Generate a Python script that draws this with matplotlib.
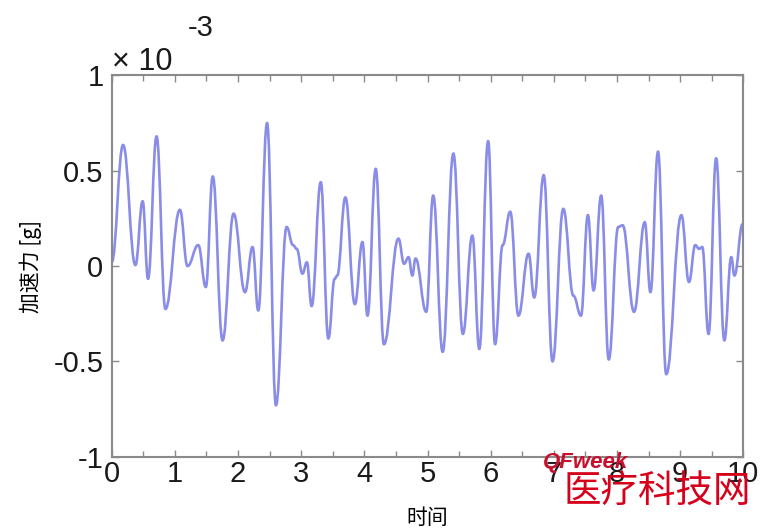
import matplotlib
matplotlib.use('agg')
import matplotlib.pyplot as plt
from matplotlib.path import Path
from matplotlib.patches import PathPatch
from matplotlib.ticker import MultipleLocator, FixedLocator

# time [s] and acceleration [x 1e-3 g] (peaks / troughs)
time_s = [0.00, 0.18, 0.375, 0.49, 0.575, 0.71, 0.85, 1.08, 1.20, 1.37, 1.49,
          1.60, 1.755, 1.93, 2.11, 2.23, 2.32, 2.46, 2.60, 2.77, 2.87, 2.93,
          3.02, 3.09, 3.165, 3.31, 3.43, 3.53, 3.57, 3.70, 3.85, 3.97, 4.05,
          4.18, 4.31, 4.54, 4.63, 4.70, 4.76, 4.81, 4.98, 5.09, 5.24, 5.41,
          5.56, 5.71, 5.82, 5.96, 6.07, 6.19, 6.31, 6.44, 6.60, 6.69, 6.84,
          6.98, 7.15, 7.31, 7.43, 7.54, 7.63, 7.75, 7.87, 8.02, 8.09, 8.27,
          8.44, 8.53, 8.65, 8.78, 9.02, 9.14, 9.24, 9.30, 9.35, 9.45, 9.57,
          9.70, 9.81, 9.86, 9.99]
accel_e3 = [0.02, 0.635, 0.005, 0.34, -0.067, 0.68, -0.225, 0.295, 0.00, 0.11, -0.11,
            0.47, -0.39, 0.275, -0.137, 0.10, -0.233, 0.75, -0.73, 0.205, 0.11, 0.09,
            -0.04, 0.02, -0.21, 0.44, -0.38, -0.067, -0.05, 0.36, -0.20, 0.126, -0.26,
            0.51, -0.41, 0.144, 0.012, 0.047, -0.05, 0.04, -0.24, 0.37, -0.45, 0.59,
            -0.356, 0.16, -0.435, 0.655, -0.41, 0.11, 0.285, -0.26, 0.065, -0.165, 0.477,
            -0.50, 0.30, -0.155, -0.26, 0.267, -0.128, 0.37, -0.49, 0.205, 0.214, -0.24,
            0.23, -0.137, 0.60, -0.567, 0.267, -0.084, 0.11, 0.09, 0.10, -0.356, 0.565,
            -0.39, 0.047, -0.05, 0.22]

x_ticks = [0, 1, 2, 3, 4, 5, 6, 7, 8, 9, 10]
y_ticks = [-1, -0.5, 0, 0.5, 1]
y_tick_labels = ['-1', '-0.5', '0', '0.5', '1']

cjk = ['Noto Sans CJK SC', 'DejaVu Sans']
plt.rcParams['font.family'] = ['Liberation Sans', 'DejaVu Sans']

fig = plt.figure(figsize=(7.6, 5.3), dpi=100)
ax = fig.add_axes([0.147, 0.138, 0.831, 0.72])

# the points are turning points of the signal, so join them with bezier
# segments that are flat at each point (smooth like the original trace)
verts = [(time_s[0], accel_e3[0])]
codes = [Path.MOVETO]
for i in range(len(time_s) - 1):
    t0, v0 = time_s[i], accel_e3[i]
    t1, v1 = time_s[i + 1], accel_e3[i + 1]
    d = (t1 - t0) * 0.42
    verts += [(t0 + d, v0), (t1 - d, v1), (t1, v1)]
    codes += [Path.CURVE4] * 3
ax.add_patch(PathPatch(Path(verts, codes), facecolor='none',
                       edgecolor='#8a8de8', lw=1.9, capstyle='round',
                       joinstyle='round'))

ax.set_xlim(0, 10)
ax.set_ylim(-1, 1)
ax.xaxis.set_major_locator(FixedLocator(x_ticks))
ax.xaxis.set_minor_locator(MultipleLocator(0.5))
ax.set_yticks(y_ticks)
ax.set_yticklabels(y_tick_labels)

for s in ax.spines.values():
    s.set_color('#8a8a8a')
    s.set_linewidth(1.5)
ax.tick_params(which='both', direction='in', top=True, right=True,
               color='#8a8a8a', width=1)
ax.tick_params(which='major', length=5, labelsize=21, labelcolor='#1a1a1a')
ax.tick_params(which='minor', length=4)
ax.tick_params(axis='x', which='major', pad=2)
ax.tick_params(axis='y', which='major', pad=6)

# MATLAB style exponent label
fig.text(0.148, 0.855, '× 10', fontsize=22, color='#1a1a1a', ha='left', va='bottom')
fig.text(0.247, 0.92, '-3', fontsize=21, color='#1a1a1a', ha='left', va='bottom')

ax.set_ylabel('加速力 [g]', family=cjk, fontsize=15, labelpad=8)
ax.set_xlabel('时间', family=cjk, fontsize=15, labelpad=14)

# watermark
fig.text(0.715, 0.128, 'QFweek', fontsize=16, color='#c8102e', style='italic',
         fontweight='bold', ha='left', va='center')
fig.text(0.742, 0.073, '医疗科技网', family=cjk, fontsize=27, color='#d7001a',
         ha='left', va='center')

plt.savefig('out.png', dpi=100)
plt.close()
